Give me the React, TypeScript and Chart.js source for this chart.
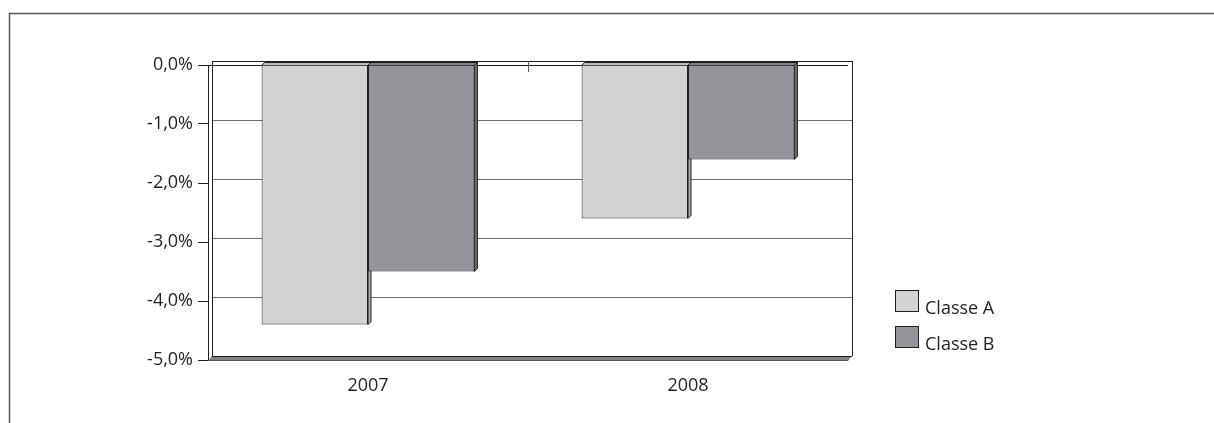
import React, { useEffect, useRef } from 'react';
import { Chart, registerables } from 'chart.js';

Chart.register(...registerables);

const categories = ['2007', '2008'];
const seriesNames = ['Classe A', 'Classe B'];
const classeA = [-4.4, -2.6];
const classeB = [-3.5, -1.6];
const yMin = -5;
const yMax = 0;
const yStep = 1;

const fillColors = ['#d1d3d4', '#939598'];
const sideColors = ['#a7a9ac', '#6d6e71'];
const topColors = ['#bcbec0', '#808285'];
const INK = '#231f20';
const GRID = '#6d6e71';
const FONT = "'Open Sans', sans-serif";
const FONT_SIZE = 18;
const WALL_DEPTH = 4;
const BAR_DEPTH = 3;

const fmt = (v: number) => `${v.toFixed(1).replace('.', ',')}%`;

const frame3d = {
  id: 'frame3d',
  beforeDatasetsDraw(chart: any) {
    const { ctx, chartArea: a, scales } = chart;
    const ys = scales.y;
    const xs = scales.x;
    const D = WALL_DEPTH;
    ctx.save();
    ctx.lineWidth = 1;

    // left wall
    ctx.fillStyle = '#ffffff';
    ctx.beginPath();
    ctx.moveTo(a.left, a.top);
    ctx.lineTo(a.left + D, a.top - D);
    ctx.lineTo(a.left + D, a.bottom - D);
    ctx.lineTo(a.left, a.bottom);
    ctx.closePath();
    ctx.fill();

    // back wall gridlines
    ctx.strokeStyle = GRID;
    ys.ticks.forEach((t: any) => {
      if (t.value === yMax || t.value === yMin) return;
      const py = Math.round(ys.getPixelForValue(t.value) - D) + 0.5;
      ctx.beginPath();
      ctx.moveTo(a.left + D, py);
      ctx.lineTo(a.right + D, py);
      ctx.stroke();
    });

    // floor
    ctx.fillStyle = '#808285';
    ctx.beginPath();
    ctx.moveTo(a.left, a.bottom + 1);
    ctx.lineTo(a.left + D, a.bottom - D);
    ctx.lineTo(a.right + D, a.bottom - D);
    ctx.lineTo(a.right, a.bottom + 1);
    ctx.closePath();
    ctx.fill();
    ctx.strokeStyle = INK;
    ctx.beginPath();
    ctx.moveTo(a.left + D, Math.round(a.bottom - D) + 0.5);
    ctx.lineTo(a.right + D, Math.round(a.bottom - D) + 0.5);
    ctx.stroke();
    ctx.strokeStyle = '#58595b';
    ctx.beginPath();
    ctx.moveTo(a.left, Math.round(a.bottom) + 0.5);
    ctx.lineTo(a.right, Math.round(a.bottom) + 0.5);
    ctx.stroke();

    // zero plane
    const y0 = ys.getPixelForValue(0);
    ctx.strokeStyle = INK;
    ctx.beginPath();
    ctx.moveTo(a.left, Math.round(y0) + 0.5);
    ctx.lineTo(a.right, Math.round(y0) + 0.5);
    ctx.moveTo(a.left + D, Math.round(y0 - D) + 0.5);
    ctx.lineTo(a.right + D, Math.round(y0 - D) + 0.5);
    ctx.stroke();

    // wall verticals
    ctx.beginPath();
    ctx.moveTo(Math.round(a.left) + 0.5, a.top);
    ctx.lineTo(Math.round(a.left) + 0.5, a.bottom);
    ctx.moveTo(Math.round(a.left + D) + 0.5, a.top - D);
    ctx.lineTo(Math.round(a.left + D) + 0.5, a.bottom - D);
    ctx.moveTo(Math.round(a.right + D) + 0.5, a.top - D);
    ctx.lineTo(Math.round(a.right + D) + 0.5, a.bottom - D);
    ctx.stroke();

    // category separator tick on zero line
    const xm = (xs.getPixelForValue(0) + xs.getPixelForValue(1)) / 2;
    ctx.strokeStyle = '#58595b';
    ctx.beginPath();
    ctx.moveTo(Math.round(xm) + 0.5, y0 - D);
    ctx.lineTo(Math.round(xm) + 0.5, y0 + 7);
    ctx.stroke();

    // 3D faces of bars
    chart.data.datasets.forEach((_ds: any, i: number) => {
      const meta = chart.getDatasetMeta(i);
      meta.data.forEach((bar: any) => {
        const p = bar.getProps(['x', 'y', 'base', 'width']);
        const left = p.x - p.width / 2;
        const right = p.x + p.width / 2;
        const top = Math.min(p.y, p.base);
        const bottom = Math.max(p.y, p.base);
        const d = BAR_DEPTH;
        ctx.strokeStyle = INK;
        ctx.fillStyle = sideColors[i];
        ctx.beginPath();
        ctx.moveTo(right, top);
        ctx.lineTo(right + d, top - d);
        ctx.lineTo(right + d, bottom - d);
        ctx.lineTo(right, bottom);
        ctx.closePath();
        ctx.fill();
        ctx.stroke();
        ctx.fillStyle = topColors[i];
        ctx.beginPath();
        ctx.moveTo(left, top);
        ctx.lineTo(left + d, top - d);
        ctx.lineTo(right + d, top - d);
        ctx.lineTo(right, top);
        ctx.closePath();
        ctx.fill();
        ctx.stroke();
      });
    });
    ctx.restore();
  },
  afterDraw(chart: any) {
    const { ctx } = chart;
    ctx.save();
    ctx.strokeStyle = '#58595b';
    ctx.lineWidth = 1.5;
    ctx.beginPath();
    ctx.moveTo(9.5, 423);
    ctx.lineTo(9.5, 13.5);
    ctx.lineTo(1214, 13.5);
    ctx.stroke();
    ctx.restore();
  },
};

export default function App() {
  const canvasRef = useRef<HTMLCanvasElement | null>(null);

  useEffect(() => {
    if (!canvasRef.current) return;
    const chart = new Chart(canvasRef.current, {
      type: 'bar',
      data: {
        labels: categories,
        datasets: [
          {
            label: seriesNames[0],
            data: classeA,
            backgroundColor: fillColors[0],
            borderColor: INK,
            borderWidth: 1,
            categoryPercentage: 0.665,
            barPercentage: 1,
          },
          {
            label: seriesNames[1],
            data: classeB,
            backgroundColor: fillColors[1],
            borderColor: INK,
            borderWidth: 1,
            categoryPercentage: 0.665,
            barPercentage: 1,
          },
        ],
      },
      options: {
        responsive: false,
        animation: false,
        layout: { padding: { left: 0, top: 65, right: 366, bottom: 0 } },
        plugins: { legend: { display: false }, tooltip: { enabled: false } },
        scales: {
          x: {
            grid: { display: false, drawTicks: false },
            border: { display: false },
            ticks: { padding: 15, color: INK, font: { family: FONT, size: FONT_SIZE } },
            afterFit: (s: any) => {
              s.height = 63;
            },
          },
          y: {
            min: yMin,
            max: yMax,
            ticks: {
              stepSize: yStep,
              padding: 5,
              color: INK,
              font: { family: FONT, size: FONT_SIZE },
              callback: (v: any) => fmt(Number(v)),
            },
            grid: {
              drawOnChartArea: false,
              drawTicks: true,
              tickLength: 10,
              tickColor: INK,
              tickWidth: 1,
            },
            border: { display: false },
            afterFit: (s: any) => {
              s.width = 208;
            },
          },
        },
      },
      plugins: [frame3d],
    } as any);
    return () => chart.destroy();
  }, []);

  const legendTops = [290, 326];

  return (
    <div style={{ position: 'absolute', left: 0, top: 0, width: 1214, height: 423, background: '#fff' }}>
      <canvas ref={canvasRef} width={1214} height={423} style={{ display: 'block' }} />
      {seriesNames.map((name, i) => (
        <div key={name}>
          <div
            style={{
              position: 'absolute',
              left: 895,
              top: legendTops[i],
              width: 22,
              height: 20,
              background: fillColors[i],
              border: `1.5px solid ${INK}`,
            }}
          />
          <div
            style={{
              position: 'absolute',
              left: 925,
              top: legendTops[i] + 7,
              fontFamily: FONT,
              fontSize: FONT_SIZE,
              lineHeight: '20px',
              color: INK,
              whiteSpace: 'nowrap',
            }}
          >
            {name}
          </div>
        </div>
      ))}
    </div>
  );
}
